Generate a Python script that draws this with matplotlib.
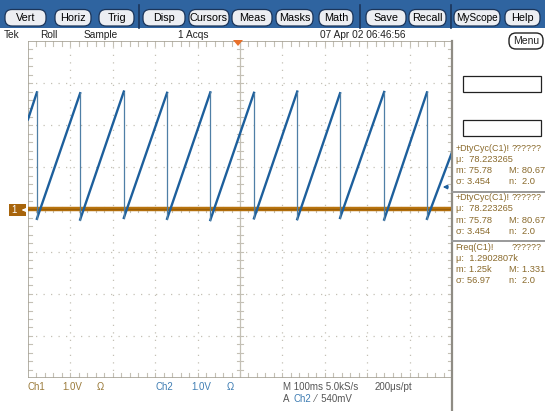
import matplotlib.pyplot as plt
from matplotlib.patches import FancyBboxPatch, Rectangle, Polygon

# ---- trace data (graticule divisions: x 0..10, y -4..4) ----
ch2_fall_t = [0.21, 1.23, 2.26, 3.28, 4.30, 5.33, 6.35, 7.36, 8.40, 9.41]
ch2_peak_v = [2.78, 2.76, 2.80, 2.77, 2.78, 2.77, 2.80, 2.76, 2.79, 2.78]
ch2_low_v = [-0.22, -0.24, -0.20, -0.22, -0.25, -0.21, -0.23, -0.20, -0.24, -0.22]
ch2_start_v = 2.14
ch2_end_v = 1.36
ch1_level = 0.0

buttons = ["Vert", "Horiz", "Trig", "Disp", "Cursors", "Meas", "Masks", "Math",
           "Save", "Recall", "MyScope", "Help"]
button_x = [(5, 46), (55, 91), (99, 134), (143, 185), (189, 229), (232, 272),
            (276, 313), (319, 353), (366, 406), (409, 446), (454, 500), (505, 540)]

meas_blocks = [
    ["+DtyCyc(C1)!", "78.223265", "75.78", "80.67", "3.454", "2.0"],
    ["+DtyCyc(C1)!", "78.223265", "75.78", "80.67", "3.454", "2.0"],
    ["Freq(C1)!", "1.2902807k", "1.25k", "1.331", "56.97", "2.0"],
]

W, H = 545, 411
FONT = ["Liberation Sans Narrow", "Liberation Sans", "DejaVu Sans"]
grid_col = "#c4c0b5"
blue = "#1d5f9c"
orange = "#b8740f"
brown_txt = "#8a6a2c"

fig = plt.figure(figsize=(W / 100, H / 100), dpi=100)
fig.patch.set_facecolor("white")

# graticule axes, placed in pixel units
gl, gr, gt, gb = 28, 452, 41, 378
ax = fig.add_axes([gl / W, 1 - gb / H, (gr - gl) / W, (gb - gt) / H])
ax.set_xlim(0, 10)
ax.set_ylim(-4, 4)
ax.axis("off")

for x in range(1, 10):
    if x != 5:
        ax.plot([x, x], [-4, 4], color=grid_col, lw=0.9, ls=(0, (1, 5)))
for y in range(-3, 4):
    if y != 0:
        ax.plot([0, 10], [y, y], color=grid_col, lw=0.9, ls=(0, (1, 5)))
ax.plot([5, 5], [-4, 4], color=grid_col, lw=0.9)
ax.plot([0, 10], [0, 0], color=grid_col, lw=0.9)

# minor ticks on centre lines and edges
for i in range(1, 50):
    x = i * 0.2
    ax.plot([x, x], [-0.07, 0.07], color=grid_col, lw=0.8)
    ax.plot([x, x], [4, 3.88], color=grid_col, lw=0.8)
    ax.plot([x, x], [-4, -3.88], color=grid_col, lw=0.8)
for i in range(1, 40):
    y = -4 + i * 0.2
    ax.plot([4.93, 5.07], [y, y], color=grid_col, lw=0.8)
    ax.plot([0, 0.1], [y, y], color=grid_col, lw=0.8)
    ax.plot([9.9, 10], [y, y], color=grid_col, lw=0.8)
ax.plot([0, 0], [-4, 4], color="#a7a397", lw=1.2)
ax.plot([0, 10], [4, 4], color="#a7a397", lw=1.2)
ax.plot([0, 10], [-4, -4], color="#a7a397", lw=1.2)

# Ch1 trace
ax.plot([0, 10], [ch1_level, ch1_level], color=orange, lw=3.2, solid_capstyle="butt", zorder=3)
ax.plot([0, 10], [ch1_level, ch1_level], color="#9a5e08", lw=1.0, zorder=3)

# Ch2 sawtooth from its vertices
xs = [0.0]
ys = [ch2_start_v]
for t, hi, lo in zip(ch2_fall_t, ch2_peak_v, ch2_low_v):
    xs += [t, t]
    ys += [hi, lo]
xs.append(10.0)
ys.append(ch2_end_v)
for i in range(0, len(xs) - 1, 2):
    ax.plot(xs[i:i + 2], ys[i:i + 2], color=blue, lw=1.7, zorder=4)
for t, hi, lo in zip(ch2_fall_t, ch2_peak_v, ch2_low_v):
    ax.plot([t, t], [hi, lo], color="#4f7fa6", lw=0.9, zorder=4)

# overlay for the scope chrome, in pixel units
ui = fig.add_axes([0, 0, 1, 1])
ui.set_xlim(0, W)
ui.set_ylim(H, 0)
ui.axis("off")
ui.patch.set_alpha(0)

ui.add_patch(Rectangle((0, 0), W, 28.5, facecolor="#2f64a0", edgecolor="none"))
for (x0, x1), lab in zip(button_x, buttons):
    ui.add_patch(FancyBboxPatch((x0, 9.5), x1 - x0, 16.5,
                                boxstyle="round,pad=0,rounding_size=7",
                                facecolor="#eceef2", edgecolor="#1b355a", lw=0.9))
    ui.text((x0 + x1) / 2, 18.2, lab, ha="center", va="center",
            fontsize=7.2 if lab == "MyScope" else 7.8, family=FONT, color="black")
for sx in [138.5, 359.5, 450.5]:
    ui.plot([sx, sx], [5, 28.5], color="#1b355a", lw=1.2)

hdr = [(4, "Tek"), (40, "Roll"), (84, "Sample"), (178, "1 Acqs"), (320, "07 Apr 02 06:46:56")]
for x, s in hdr:
    ui.text(x, 34.5, s, ha="left", va="center", fontsize=7.3, family=FONT, color="#222222")

ui.add_patch(FancyBboxPatch((509, 33), 34, 16, boxstyle="round,pad=0,rounding_size=7",
                            facecolor="white", edgecolor="#222222", lw=1.0))
ui.text(526, 41.5, "Menu", ha="center", va="center", fontsize=7.5, family=FONT, color="#222222")

# trigger position marker
ui.add_patch(Polygon([[233, 40], [243, 40], [238, 46]], closed=True, facecolor="#e8702a",
                     edgecolor="none"))

# right-hand frame line and panel
ui.plot([gr, gr], [gt, H], color="#8f8c84", lw=1.6)
ui.add_patch(Rectangle((463, 76), 78, 16, facecolor="white", edgecolor="#222222", lw=0.9))
ui.add_patch(Rectangle((463, 120), 78, 16, facecolor="white", edgecolor="#222222", lw=0.9))
for sy in [192, 241]:
    ui.plot([gr, W], [sy, sy], color="#9a9a9a", lw=1.4)

fs = 6.7
tx = 455.5
for k, (name, mu, mn, mx, sd, n) in enumerate(meas_blocks):
    y0 = 148 + k * 49.5
    ui.text(tx, y0, name, fontsize=6.4, family=FONT, color=brown_txt, va="center")
    ui.text(542, y0, "??????", fontsize=6.4, family=FONT, color=brown_txt, va="center", ha="right")
    ui.text(tx, y0 + 11.3, "\u03bc:  " + mu, fontsize=fs, family=FONT, color=brown_txt, va="center")
    ui.text(tx, y0 + 22.6, "m: " + mn, fontsize=fs, family=FONT, color=brown_txt, va="center")
    ui.text(509, y0 + 22.6, "M: " + mx, fontsize=fs, family=FONT, color=brown_txt, va="center")
    ui.text(tx, y0 + 33.9, "\u03c3: " + sd, fontsize=fs, family=FONT, color=brown_txt, va="center")
    ui.text(509, y0 + 33.9, "n:  " + n, fontsize=fs, family=FONT, color=brown_txt, va="center")

# Ch1 ground marker and Ch2 trigger level arrow
ui.add_patch(Rectangle((9, 204), 17, 12, facecolor="#a8650c", edgecolor="none"))
ui.text(14, 210, "1", fontsize=7, family=FONT, color="white", va="center", ha="center")
ui.annotate("", xy=(19, 210), xytext=(27, 210),
            arrowprops=dict(arrowstyle="-|>", color="white", lw=0.8, mutation_scale=5))
ui.annotate("", xy=(440, 187), xytext=(451, 187),
            arrowprops=dict(arrowstyle="-|>", color=blue, lw=1.0, mutation_scale=6))

# bottom readouts
bot = [(27, "Ch1", "#9a7a3a"), (62, "1.0V", "#9a7a3a"), (97, "\u03a9", "#9a7a3a"),
       (155, "Ch2", "#3f7db3"), (191, "1.0V", "#3f7db3"), (227, "\u03a9", "#3f7db3"),
       (283, "M 100ms 5.0kS/s", "#555555"), (375, "200\u03bcs/pt", "#555555")]
for x, s, c in bot:
    ui.text(x, 387, s, fontsize=7.0, family=FONT, color=c, va="center")
ui.text(283, 399, "A", fontsize=7.0, family=FONT, color="#555555", va="center")
ui.text(293, 399, "Ch2", fontsize=7.0, family=FONT, color="#3f7db3", va="center")
ui.text(315, 399, "\u2044  540mV", fontsize=7.0, family=FONT, color="#555555", va="center")

fig.savefig("out.png", dpi=100, facecolor="white")
